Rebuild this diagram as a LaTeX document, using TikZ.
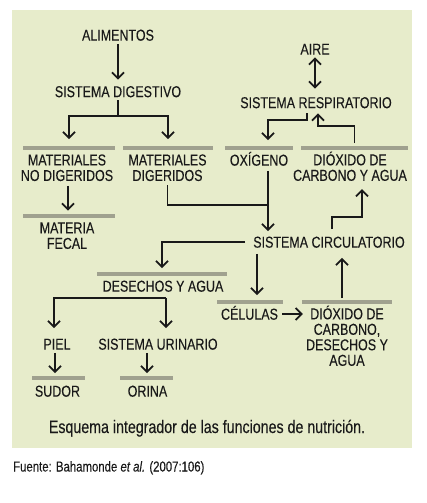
\documentclass[tikz,border=0pt]{standalone}
\usepackage{fontspec}
\setmainfont{Liberation Sans}[FakeStretch=0.79, FakeBold=0.12]
\usepackage{xcolor}
\usepackage{tikz}
\usetikzlibrary{positioning, arrows.meta, calc}

\definecolor{panel}{RGB}{231,236,203}
\definecolor{barc}{RGB}{160,161,143}
\definecolor{ink}{RGB}{25,25,25}

\begin{document}
\begin{tikzpicture}[x=1pt, y=-1pt,
    every node/.style={inner sep=0pt, text=ink},
    lbl/.style={font=\fontsize{15.8}{15.5}\selectfont, align=center},
    single/.style={lbl, text height=11.3pt, text depth=0pt},
    bar/.style={fill=barc, minimum height=3.5pt},
    arrow/.style={-{Straight Barb[length=6pt, width=12pt]}, line width=1.8pt, draw=ink},
    both/.style={{Straight Barb[length=6pt, width=12pt]}-{Straight Barb[length=6pt, width=12pt]}, line width=1.8pt, draw=ink},
    link/.style={line width=1.8pt, draw=ink}
  ]

  % Frame
  \useasboundingbox (0,0) rectangle (427,503);
  \fill[panel] (12,10) rectangle (412,448);

  % Nodes
  \node[single] (alim) at (118,35) {ALIMENTOS};
  \node[single] (digest) at (118,91.5) {SISTEMA DIGESTIVO};
  \node[single] (aire) at (315,49) {AIRE};
  \node[single] (resp) at (316,102.5) {SISTEMA RESPIRATORIO};

  \node[bar, minimum width=92pt] (barMND) at (69,148) {};
  \node[bar, minimum width=90pt] (barMD) at (168,148) {};
  \node[bar, minimum width=68pt] (barOx) at (259,148) {};
  \node[bar, minimum width=107pt] (barDio) at (354.5,148) {};
  \node[lbl] (mnd) at (67,167.75) {MATERIALES\\NO DIGERIDOS};
  \node[lbl] (md) at (167.5,167.75) {MATERIALES\\DIGERIDOS};
  \node[single] (oxig) at (259,160) {OXÍGENO};
  \node[lbl] (dio) at (350,166.25) {DIÓXIDO DE\\CARBONO Y AGUA};

  \node[bar, minimum width=92pt] (barFecal) at (69,216) {};
  \node[lbl] (fecal) at (67,235.75) {MATERIA\\FECAL};

  \node[single] (circ) at (329,242) {SISTEMA CIRCULATORIO};

  \node[bar, minimum width=130pt] (barDes) at (162,274) {};
  \node[single] (desechos) at (163,286) {DESECHOS Y AGUA};
  \node[bar, minimum width=66pt] (barCel) at (250,302) {};
  \node[single] (cel) at (249.5,314) {CÉLULAS};
  \node[bar, minimum width=90pt] (barDio2) at (347,302) {};
  \node[lbl] (dio2) at (347,335.75) {DIÓXIDO DE\\CARBONO,\\DESECHOS Y\\AGUA};

  \node[single] (piel) at (57,344) {PIEL};
  \node[single] (uri) at (158,344) {SISTEMA URINARIO};
  \node[bar, minimum width=53pt] (barSud) at (58.5,378) {};
  \node[single] (sudor) at (57.5,391) {SUDOR};
  \node[bar, minimum width=53pt] (barOri) at (146.5,378) {};
  \node[single] (orina) at (147.5,391) {ORINA};

  \node[font=\fontsize{18}{20}\selectfont, anchor=base] (caption) at (207,433)
    {Esquema integrador de las funciones de nutrición.};
  \node[font=\fontsize{14.4}{16}\selectfont, anchor=base west] (fuente) at (13,471.5)
    {Fuente: Bahamonde {\itshape et al.\/} (2007:106)};

  \coordinate (ojoin) at (268,205);
  \coordinate (dsplit) at ([xshift=3pt, yshift=-6pt]desechos.south);

  % Arrows
  \draw[arrow, shorten <=3pt, shorten >=6pt] (alim) -- (digest);
  \draw[arrow, shorten <=3pt, shorten >=7pt] (digest.south) -- ++(0,19) -| (barMND.north);
  \draw[arrow, shorten <=3pt, shorten >=7pt] (digest.south) -- ++(0,19) -| (barMD.north);
  \draw[arrow, shorten <=4.5pt, shorten >=3.5pt] ([xshift=1pt]mnd.south) -- ([xshift=-1pt]barFecal.north);

  \draw[both, shorten <=2.5pt, shorten >=8pt] (aire.south) -- (aire.south |- resp.north);
  \draw[arrow, shorten <=5pt, shorten >=6pt] ([xshift=-9pt]resp.south) -- ++(0,12) -| (ojoin |- barOx.north);
  \draw[arrow, shorten <=3pt, shorten >=5pt] (barDio.north) -- ++(0,-20) -| ([xshift=2pt]resp.south);

  \draw[link, shorten <=4pt] (md.south) |- (ojoin);
  \draw[arrow, shorten <=5pt, shorten >=5pt] (oxig.south -| ojoin) -- (circ.north -| ojoin);
  \draw[arrow, shorten <=7pt, shorten >=8pt] ([xshift=3pt]circ.north) -- ++(0,-19) -| ([xshift=12pt]dio.south);

  \draw[arrow, shorten <=8pt, shorten >=4pt] (circ.west) -| (barDes.north);
  \draw[arrow, shorten <=6pt, shorten >=5pt] ([xshift=-72pt]circ.south) -- ([xshift=7pt]barCel.north);
  \draw[arrow, shorten <=4pt, shorten >=3pt] (cel.east) -- (cel.east -| dio2.west);
  \draw[arrow, shorten <=2pt, shorten >=10pt] ([xshift=-5pt]barDio2.north) -- ([xshift=13pt]circ.south);

  \draw[arrow, shorten >=10pt] (dsplit) -| ([xshift=-3pt]piel.north);
  \draw[arrow, shorten >=10pt] (dsplit) -- (dsplit |- uri.north);
  \draw[arrow, shorten <=3pt, shorten >=3pt] ([xshift=-2pt]piel.south) -- ([xshift=-3.5pt]barSud.north);
  \draw[arrow, shorten <=3pt, shorten >=3pt] ([xshift=-11pt]uri.south) -- ([xshift=0.5pt]barOri.north);

\end{tikzpicture}
\end{document}
